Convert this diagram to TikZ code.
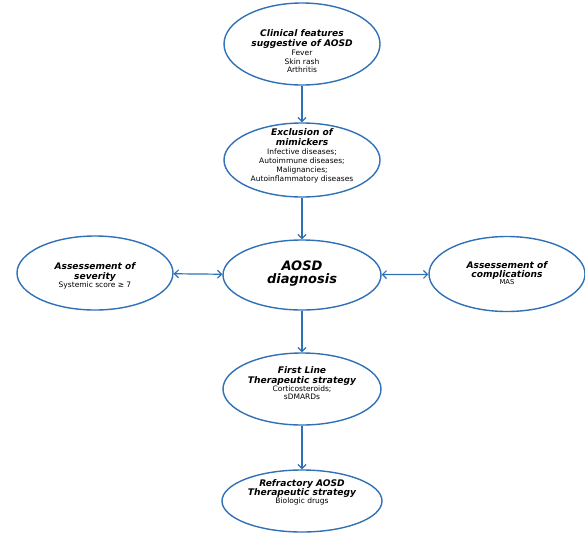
\documentclass[tikz,border=0pt]{standalone}
\usepackage{fontspec}
\setmainfont{DejaVu Sans}
\usetikzlibrary{shapes.geometric,arrows.meta}
\definecolor{lineblue}{RGB}{48,112,182}
\newcommand{\ttlf}{\fontsize{9.1}{10.5}\selectfont\bfseries\itshape}
\tikzset{
  ell/.style={ellipse, draw=lineblue, line width=1.4pt, inner sep=0pt},
  txt/.style={align=center, inner sep=0pt, font={\fontsize{7.5}{8.7}\selectfont\lineskiplimit=-6pt\lineskip=0pt}},
  conn/.style={draw=lineblue, line width=1.2pt, -{Straight Barb[length=4pt,width=8pt]}},
  dconn/.style={draw=lineblue, line width=1.2pt, {Straight Barb[length=4pt,width=8pt]}-{Straight Barb[length=4pt,width=8pt]}},
}
\begin{document}
\begin{tikzpicture}[x=1pt,y=-1pt]
\useasboundingbox (0,0) rectangle (585,533);
% ellipses
\node[ell, minimum width=156pt, minimum height=82pt] (e1) at (302,44) {};
\node[ell, minimum width=156pt, minimum height=74pt] (e2) at (302,160) {};
\node[ell, minimum width=156pt, minimum height=74pt] (e3) at (95,273) {};
\node[ell, minimum width=158pt, minimum height=70pt] (e4) at (302,275) {};
\node[ell, minimum width=156pt, minimum height=75pt] (e5) at (507,274) {};
\node[ell, minimum width=158pt, minimum height=72pt] (e6) at (302,389) {};
\node[ell, minimum width=160pt, minimum height=62pt] (e7) at (302,501) {};
% texts
\node[txt] (t1) at (302,51) {{\ttlf Clinical features}\\[1.4pt]{\ttlf suggestive of AOSD}\\[0.6pt]Fever\\Skin rash\\Arthritis};
\node[txt] (t2) at (302,155.5) {{\ttlf Exclusion of}\\[1.8pt]{\ttlf mimickers}\\[0.4pt]Infective diseases;\\Autoimmune diseases;\\Malignancies;\\Autoinflammatory diseases};
\node[txt] (t3) at (95,276) {{\ttlf Assessement of}\\[0.8pt]{\ttlf severity}\\[-0.4pt]Systemic score ≥ 7};
\node[txt, font={\fontsize{13}{13.3}\selectfont\bfseries\itshape\lineskiplimit=-6pt\lineskip=0pt}] (t4) at (302,273.5) {AOSD\\diagnosis};
\node[txt] (t5) at (507,273) {{\ttlf Assessement of}\\[0.6pt]{\ttlf complications}\\[-1.6pt]{\fontsize{6.8}{8}\selectfont MAS}};
\node[txt] (t6) at (302,383) {{\ttlf First Line}\\[1.2pt]{\ttlf Therapeutic strategy}\\[-1pt]Corticosteroids;\\[-1pt]sDMARDs};
\node[txt] (t7) at (302,492) {{\ttlf Refractory AOSD}\\[1pt]{\ttlf Therapeutic strategy}\\[-1.4pt]Biologic drugs};
% connectors
\draw[conn] (e1) -- (e2);
\draw[conn] (e2) -- (e4);
\draw[conn] (e4) -- (e6);
\draw[conn] (e6) -- (e7);
\draw[dconn] (e3) -- (e4);
\draw[dconn] (e4) -- (e5);
\end{tikzpicture}
\end{document}
